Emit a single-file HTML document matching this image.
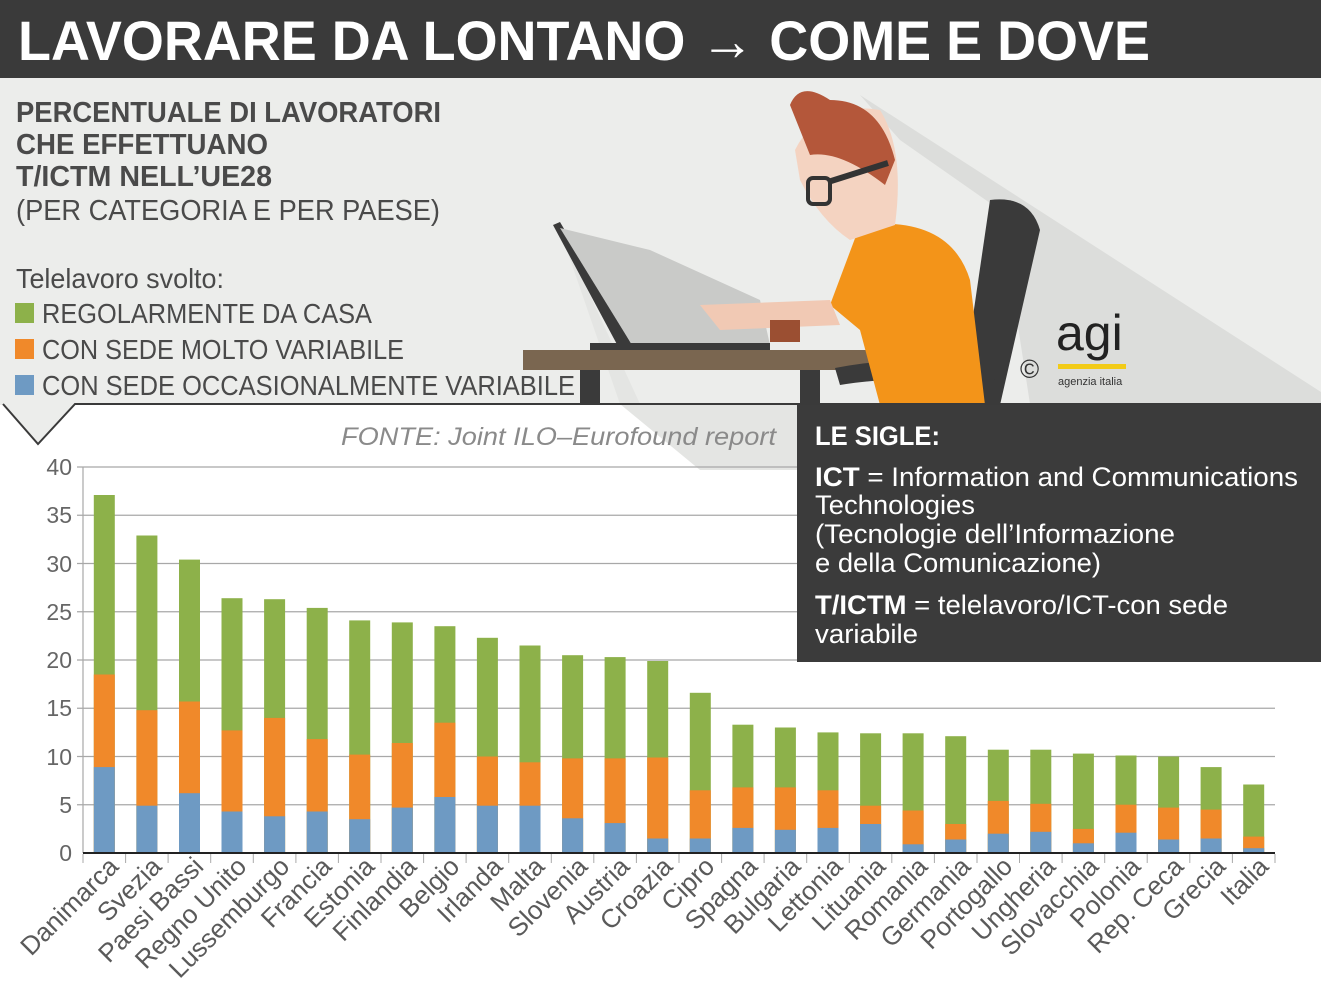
<!DOCTYPE html>
<html><head><meta charset="utf-8"><style>
html,body{margin:0;padding:0;background:#fff}
svg{display:block}
text{font-family:"Liberation Sans",sans-serif}
</style></head><body>
<svg width="1321" height="990" viewBox="0 0 1321 990" xmlns="http://www.w3.org/2000/svg">
<rect x="0" y="0" width="1321" height="405" fill="#ecedeb"/>
<rect x="0" y="0" width="1321" height="78" fill="#3a3a3a"/>
<text x="18" y="60" font-size="56" font-weight="bold" fill="#fff" textLength="1132" lengthAdjust="spacingAndGlyphs">LAVORARE DA LONTANO → COME E DOVE</text>

<!-- shadows -->
<polygon points="860,95 1321,392 1321,404 1030,404 1000,210 900,140" fill="#dcdddb"/>
<polygon points="560,230 640,404 797,404 797,470 700,470 620,404" fill="#e4e5e3"/>

<g fill="#4a4a4a">
<text x="16" y="122" font-size="29" font-weight="bold" textLength="425" lengthAdjust="spacingAndGlyphs">PERCENTUALE DI LAVORATORI</text>
<text x="16" y="154" font-size="29" font-weight="bold" textLength="252" lengthAdjust="spacingAndGlyphs">CHE EFFETTUANO</text>
<text x="16" y="186" font-size="29" font-weight="bold" textLength="256" lengthAdjust="spacingAndGlyphs">T/ICTM NELL’UE28</text>
<text x="16" y="220" font-size="29" textLength="424" lengthAdjust="spacingAndGlyphs">(PER CATEGORIA E PER PAESE)</text>
<text x="16" y="288" font-size="28" textLength="208" lengthAdjust="spacingAndGlyphs">Telelavoro svolto:</text>
<text x="42" y="323" font-size="28" textLength="330" lengthAdjust="spacingAndGlyphs">REGOLARMENTE DA CASA</text>
<text x="42" y="359" font-size="28" textLength="362" lengthAdjust="spacingAndGlyphs">CON SEDE MOLTO VARIABILE</text>
<text x="42" y="395" font-size="28" textLength="533" lengthAdjust="spacingAndGlyphs">CON SEDE OCCASIONALMENTE VARIABILE</text>
</g>
<rect x="15" y="303" width="19" height="20" fill="#8db14a"/>
<rect x="15" y="339" width="19" height="20" fill="#f0892a"/>
<rect x="15" y="375" width="19" height="20" fill="#6e9ac3"/>

<!-- illustration -->
<polygon points="553,225 560,222 632,345 620,350" fill="#3a3a3a"/>
<polygon points="560,228 632,345 770,345 760,300 650,250" fill="#c9cac8"/>
<rect x="590" y="343" width="180" height="8" fill="#3a3a3a"/>
<rect x="523" y="350" width="352" height="20" fill="#7a6650"/>
<rect x="580" y="370" width="20" height="35" fill="#3a3a3a"/>
<rect x="800" y="370" width="20" height="35" fill="#3a3a3a"/>
<path d="M990,200 Q1030,195 1040,230 L1000,405 L960,405 Z" fill="#3a3a3a"/>
<path d="M835,368 Q900,355 990,362 L995,380 Q900,375 840,385 Z" fill="#3a3a3a"/>
<path d="M860,225 Q950,215 970,280 L985,405 L880,405 L860,330 L830,305 Z" fill="#f39419"/>
<path d="M700,305 L830,300 L840,325 L720,330 Z" fill="#f1c9b4"/>
<rect x="770" y="320" width="30" height="22" fill="#9b4f32"/>
<path d="M795,150 Q820,100 880,110 Q905,150 895,225 L850,240 Q820,220 800,180 Z" fill="#f4d3c1"/>
<path d="M790,105 Q800,80 830,100 Q880,100 895,160 L885,185 Q840,150 810,155 Z" fill="#b4573a"/>
<rect x="808" y="178" width="22" height="26" rx="5" fill="none" stroke="#333" stroke-width="4"/>
<line x1="828" y1="182" x2="888" y2="163" stroke="#333" stroke-width="6"/>
<text x="1020" y="378" font-size="26" fill="#333">©</text>
<text x="1056" y="350" font-size="50" fill="#222">agi</text>
<rect x="1058" y="364" width="68" height="5" fill="#f2cb18"/>
<text x="1058" y="385" font-size="11" fill="#333">agenzia italia</text>

<polygon points="3,404 75,404 38,444" fill="#ecedeb"/>
<polyline points="3,404 38,444 75,404 1321,404" fill="none" stroke="#3a3a3a" stroke-width="2"/>

<text x="341" y="445" font-size="25" font-style="italic" fill="#8a8a8a" textLength="435" lengthAdjust="spacingAndGlyphs">FONTE: Joint ILO–Eurofound report</text>

<g stroke="#a8a8a8" stroke-width="1.2">
<line x1="77" y1="804.75" x2="1275" y2="804.75"/>
<line x1="77" y1="756.5" x2="1275" y2="756.5"/>
<line x1="77" y1="708.25" x2="1275" y2="708.25"/>
<line x1="77" y1="660" x2="1275" y2="660"/>
<line x1="77" y1="611.75" x2="1275" y2="611.75"/>
<line x1="77" y1="563.5" x2="1275" y2="563.5"/>
<line x1="77" y1="515.25" x2="1275" y2="515.25"/>
<line x1="77" y1="467" x2="1275" y2="467"/>
<line x1="83" y1="467" x2="83" y2="853"/>
</g>
<g fill="#666" font-size="23" text-anchor="end">
<text x="72" y="861">0</text><text x="72" y="813">5</text><text x="72" y="765">10</text><text x="72" y="716">15</text>
<text x="72" y="668">20</text><text x="72" y="620">25</text><text x="72" y="572">30</text><text x="72" y="523">35</text><text x="72" y="475">40</text>
</g>

<g>
<g transform="translate(93.8,0)"><rect y="495" width="21" height="358" fill="#8db14a"/><rect y="674.5" width="21" height="178.5" fill="#f0892a"/><rect y="767.1" width="21" height="85.9" fill="#6e9ac3"/></g>
<g transform="translate(136.4,0)"><rect y="535.5" width="21" height="317.5" fill="#8db14a"/><rect y="710.2" width="21" height="142.8" fill="#f0892a"/><rect y="805.7" width="21" height="47.3" fill="#6e9ac3"/></g>
<g transform="translate(179,0)"><rect y="559.6" width="21" height="293.4" fill="#8db14a"/><rect y="701.5" width="21" height="151.5" fill="#f0892a"/><rect y="793.2" width="21" height="59.8" fill="#6e9ac3"/></g>
<g transform="translate(221.5,0)"><rect y="598.2" width="21" height="254.8" fill="#8db14a"/><rect y="730.4" width="21" height="122.6" fill="#f0892a"/><rect y="811.5" width="21" height="41.5" fill="#6e9ac3"/></g>
<g transform="translate(264.1,0)"><rect y="599.2" width="21" height="253.8" fill="#8db14a"/><rect y="717.9" width="21" height="135.1" fill="#f0892a"/><rect y="816.3" width="21" height="36.7" fill="#6e9ac3"/></g>
<g transform="translate(306.7,0)"><rect y="607.9" width="21" height="245.1" fill="#8db14a"/><rect y="739.1" width="21" height="113.9" fill="#f0892a"/><rect y="811.5" width="21" height="41.5" fill="#6e9ac3"/></g>
<g transform="translate(349.2,0)"><rect y="620.4" width="21" height="232.6" fill="#8db14a"/><rect y="754.6" width="21" height="98.4" fill="#f0892a"/><rect y="819.2" width="21" height="33.8" fill="#6e9ac3"/></g>
<g transform="translate(391.8,0)"><rect y="622.4" width="21" height="230.6" fill="#8db14a"/><rect y="743" width="21" height="110" fill="#f0892a"/><rect y="807.6" width="21" height="45.4" fill="#6e9ac3"/></g>
<g transform="translate(434.4,0)"><rect y="626.2" width="21" height="226.8" fill="#8db14a"/><rect y="722.7" width="21" height="130.3" fill="#f0892a"/><rect y="797" width="21" height="56" fill="#6e9ac3"/></g>
<g transform="translate(476.9,0)"><rect y="637.8" width="21" height="215.2" fill="#8db14a"/><rect y="756.5" width="21" height="96.5" fill="#f0892a"/><rect y="805.7" width="21" height="47.3" fill="#6e9ac3"/></g>
<g transform="translate(519.5,0)"><rect y="645.5" width="21" height="207.5" fill="#8db14a"/><rect y="762.3" width="21" height="90.7" fill="#f0892a"/><rect y="805.7" width="21" height="47.3" fill="#6e9ac3"/></g>
<g transform="translate(562.1,0)"><rect y="655.2" width="21" height="197.8" fill="#8db14a"/><rect y="758.4" width="21" height="94.6" fill="#f0892a"/><rect y="818.3" width="21" height="34.7" fill="#6e9ac3"/></g>
<g transform="translate(604.6,0)"><rect y="657.1" width="21" height="195.9" fill="#8db14a"/><rect y="758.4" width="21" height="94.6" fill="#f0892a"/><rect y="823.1" width="21" height="29.9" fill="#6e9ac3"/></g>
<g transform="translate(647.2,0)"><rect y="661" width="21" height="192" fill="#8db14a"/><rect y="757.5" width="21" height="95.5" fill="#f0892a"/><rect y="838.5" width="21" height="14.5" fill="#6e9ac3"/></g>
<g transform="translate(689.8,0)"><rect y="692.8" width="21" height="160.2" fill="#8db14a"/><rect y="790.3" width="21" height="62.7" fill="#f0892a"/><rect y="838.5" width="21" height="14.5" fill="#6e9ac3"/></g>
<g transform="translate(732.4,0)"><rect y="724.7" width="21" height="128.3" fill="#8db14a"/><rect y="787.4" width="21" height="65.6" fill="#f0892a"/><rect y="827.9" width="21" height="25.1" fill="#6e9ac3"/></g>
<g transform="translate(774.9,0)"><rect y="727.5" width="21" height="125.5" fill="#8db14a"/><rect y="787.4" width="21" height="65.6" fill="#f0892a"/><rect y="829.8" width="21" height="23.2" fill="#6e9ac3"/></g>
<g transform="translate(817.5,0)"><rect y="732.4" width="21" height="120.6" fill="#8db14a"/><rect y="790.3" width="21" height="62.7" fill="#f0892a"/><rect y="827.9" width="21" height="25.1" fill="#6e9ac3"/></g>
<g transform="translate(860.1,0)"><rect y="733.3" width="21" height="119.7" fill="#8db14a"/><rect y="805.7" width="21" height="47.3" fill="#f0892a"/><rect y="824" width="21" height="29" fill="#6e9ac3"/></g>
<g transform="translate(902.6,0)"><rect y="733.3" width="21" height="119.7" fill="#8db14a"/><rect y="810.5" width="21" height="42.5" fill="#f0892a"/><rect y="844.3" width="21" height="8.7" fill="#6e9ac3"/></g>
<g transform="translate(945.2,0)"><rect y="736.2" width="21" height="116.8" fill="#8db14a"/><rect y="824" width="21" height="29" fill="#f0892a"/><rect y="839.5" width="21" height="13.5" fill="#6e9ac3"/></g>
<g transform="translate(987.8,0)"><rect y="749.7" width="21" height="103.3" fill="#8db14a"/><rect y="800.9" width="21" height="52.1" fill="#f0892a"/><rect y="833.7" width="21" height="19.3" fill="#6e9ac3"/></g>
<g transform="translate(1030.3,0)"><rect y="749.7" width="21" height="103.3" fill="#8db14a"/><rect y="803.8" width="21" height="49.2" fill="#f0892a"/><rect y="831.8" width="21" height="21.2" fill="#6e9ac3"/></g>
<g transform="translate(1072.9,0)"><rect y="753.6" width="21" height="99.4" fill="#8db14a"/><rect y="828.9" width="21" height="24.1" fill="#f0892a"/><rect y="843.3" width="21" height="9.7" fill="#6e9ac3"/></g>
<g transform="translate(1115.5,0)"><rect y="755.5" width="21" height="97.5" fill="#8db14a"/><rect y="804.7" width="21" height="48.3" fill="#f0892a"/><rect y="832.7" width="21" height="20.3" fill="#6e9ac3"/></g>
<g transform="translate(1158.1,0)"><rect y="756.5" width="21" height="96.5" fill="#8db14a"/><rect y="807.6" width="21" height="45.4" fill="#f0892a"/><rect y="839.5" width="21" height="13.5" fill="#6e9ac3"/></g>
<g transform="translate(1200.6,0)"><rect y="767.1" width="21" height="85.9" fill="#8db14a"/><rect y="809.6" width="21" height="43.4" fill="#f0892a"/><rect y="838.5" width="21" height="14.5" fill="#6e9ac3"/></g>
<g transform="translate(1243.2,0)"><rect y="784.5" width="21" height="68.5" fill="#8db14a"/><rect y="836.6" width="21" height="16.4" fill="#f0892a"/><rect y="848.2" width="21" height="4.8" fill="#6e9ac3"/></g>
</g>

<line x1="83" y1="853" x2="1275" y2="853" stroke="#222" stroke-width="2"/>
<g stroke="#aaa" stroke-width="1">
<line x1="83" y1="854" x2="83" y2="863"/><line x1="125.6" y1="854" x2="125.6" y2="863"/><line x1="168.1" y1="854" x2="168.1" y2="863"/><line x1="210.7" y1="854" x2="210.7" y2="863"/><line x1="253.3" y1="854" x2="253.3" y2="863"/><line x1="295.9" y1="854" x2="295.9" y2="863"/><line x1="338.4" y1="854" x2="338.4" y2="863"/><line x1="381" y1="854" x2="381" y2="863"/><line x1="423.6" y1="854" x2="423.6" y2="863"/><line x1="466.1" y1="854" x2="466.1" y2="863"/><line x1="508.7" y1="854" x2="508.7" y2="863"/><line x1="551.3" y1="854" x2="551.3" y2="863"/><line x1="593.8" y1="854" x2="593.8" y2="863"/><line x1="636.4" y1="854" x2="636.4" y2="863"/><line x1="679" y1="854" x2="679" y2="863"/><line x1="721.6" y1="854" x2="721.6" y2="863"/><line x1="764.1" y1="854" x2="764.1" y2="863"/><line x1="806.7" y1="854" x2="806.7" y2="863"/><line x1="849.3" y1="854" x2="849.3" y2="863"/><line x1="891.8" y1="854" x2="891.8" y2="863"/><line x1="934.4" y1="854" x2="934.4" y2="863"/><line x1="977" y1="854" x2="977" y2="863"/><line x1="1019.5" y1="854" x2="1019.5" y2="863"/><line x1="1062.1" y1="854" x2="1062.1" y2="863"/><line x1="1104.7" y1="854" x2="1104.7" y2="863"/><line x1="1147.2" y1="854" x2="1147.2" y2="863"/><line x1="1189.8" y1="854" x2="1189.8" y2="863"/><line x1="1232.4" y1="854" x2="1232.4" y2="863"/><line x1="1275" y1="854" x2="1275" y2="863"/>
</g>
<g fill="#5a5a5a" font-size="26" text-anchor="end">
<text transform="translate(120,868) rotate(-45)">Danimarca</text>
<text transform="translate(163,868) rotate(-45)">Svezia</text>
<text transform="translate(205,868) rotate(-45)">Paesi Bassi</text>
<text transform="translate(248,868) rotate(-45)">Regno Unito</text>
<text transform="translate(291,868) rotate(-45)">Lussemburgo</text>
<text transform="translate(333,868) rotate(-45)">Francia</text>
<text transform="translate(376,868) rotate(-45)">Estonia</text>
<text transform="translate(418,868) rotate(-45)">Finlandia</text>
<text transform="translate(461,868) rotate(-45)">Belgio</text>
<text transform="translate(504,868) rotate(-45)">Irlanda</text>
<text transform="translate(546,868) rotate(-45)">Malta</text>
<text transform="translate(589,868) rotate(-45)">Slovenia</text>
<text transform="translate(631,868) rotate(-45)">Austria</text>
<text transform="translate(674,868) rotate(-45)">Croazia</text>
<text transform="translate(716,868) rotate(-45)">Cipro</text>
<text transform="translate(759,868) rotate(-45)">Spagna</text>
<text transform="translate(802,868) rotate(-45)">Bulgaria</text>
<text transform="translate(844,868) rotate(-45)">Lettonia</text>
<text transform="translate(887,868) rotate(-45)">Lituania</text>
<text transform="translate(929,868) rotate(-45)">Romania</text>
<text transform="translate(972,868) rotate(-45)">Germania</text>
<text transform="translate(1014,868) rotate(-45)">Portogallo</text>
<text transform="translate(1057,868) rotate(-45)">Ungheria</text>
<text transform="translate(1100,868) rotate(-45)">Slovacchia</text>
<text transform="translate(1142,868) rotate(-45)">Polonia</text>
<text transform="translate(1185,868) rotate(-45)">Rep. Ceca</text>
<text transform="translate(1227,868) rotate(-45)">Grecia</text>
<text transform="translate(1270,868) rotate(-45)">Italia</text>
</g>

<rect x="797" y="405" width="524" height="257" fill="#3b3b3b"/>
<g fill="#fff">
<text x="815" y="445" font-size="27" font-weight="bold" textLength="125" lengthAdjust="spacingAndGlyphs">LE SIGLE:</text>
<text x="815" y="486" font-size="27" textLength="483" lengthAdjust="spacingAndGlyphs"><tspan font-weight="bold">ICT</tspan> = Information and Communications</text>
<text x="815" y="514" font-size="27" textLength="160" lengthAdjust="spacingAndGlyphs">Technologies</text>
<text x="815" y="543" font-size="27" textLength="360" lengthAdjust="spacingAndGlyphs">(Tecnologie dell’Informazione</text>
<text x="815" y="572" font-size="27" textLength="286" lengthAdjust="spacingAndGlyphs">e della Comunicazione)</text>
<text x="815" y="614" font-size="27" textLength="413" lengthAdjust="spacingAndGlyphs"><tspan font-weight="bold">T/ICTM</tspan> = telelavoro/ICT-con sede</text>
<text x="815" y="643" font-size="27" textLength="103" lengthAdjust="spacingAndGlyphs">variabile</text>
</g>
</svg>
</body></html>
